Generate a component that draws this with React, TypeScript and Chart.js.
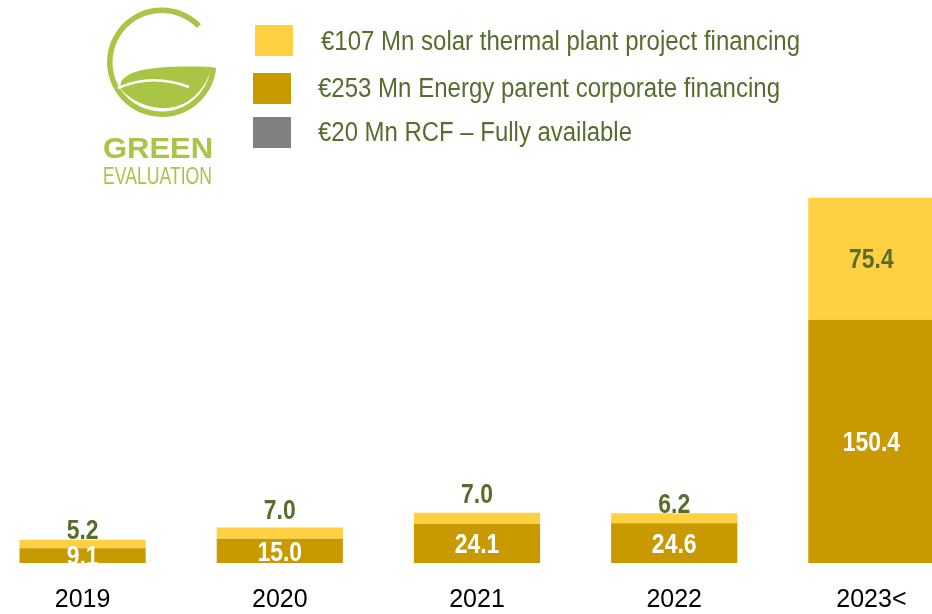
import React, { useEffect, useRef } from 'react';
import { Chart, registerables } from 'chart.js';

Chart.register(...registerables);

// ---- data ----
const categories = ['2019', '2020', '2021', '2022', '2023<'];
const corporateFinancing = [9.1, 15.0, 24.1, 24.6, 150.4];
const projectFinancing = [5.2, 7.0, 7.0, 6.2, 75.4];
const rcfFinancing = [0, 0, 0, 0, 0];
const legendLabels = [
  '€107 Mn solar thermal plant project financing',
  '€253 Mn Energy parent corporate financing',
  '€20 Mn RCF – Fully available',
];

// ---- style ----
const LIGHT = '#FFD142';
const DARK = '#C99A00';
const GRAY = '#808080';
const OLIVE = '#586C2D';
const LOGO = '#A8C545';
const FONT = '"Liberation Sans", Arial, sans-serif';
const topLabelGap = [1, 8, 10, 0, 0];
const legendWidths = [479, 462, 314];

const labelPlugin = {
  id: 'barLabels',
  afterDatasetsDraw(chart: any) {
    const { ctx, chartArea } = chart;
    ctx.save();
    ctx.beginPath();
    ctx.rect(chartArea.left, chartArea.top, chartArea.right - chartArea.left, chartArea.bottom - chartArea.top);
    ctx.clip();
    const size = 27;
    ctx.font = `bold ${size}px ${FONT}`;
    ctx.textAlign = 'center';
    ctx.textBaseline = 'alphabetic';
    const capHalf = size * 0.358;
    const draw = (txt: string, x: number, y: number) => {
      ctx.save();
      ctx.translate(x, y);
      ctx.scale(0.85, 1);
      ctx.fillText(txt, 0, 0);
      ctx.restore();
    };
    chart.getDatasetMeta(0).data.forEach((bar: any, i: number) => {
      const { x, y, base } = bar.getProps(['x', 'y', 'base'], true);
      ctx.fillStyle = '#FFFFFF';
      draw(corporateFinancing[i].toFixed(1), x, (y + base) / 2 + capHalf);
    });
    chart.getDatasetMeta(1).data.forEach((bar: any, i: number) => {
      const { x, y, base } = bar.getProps(['x', 'y', 'base'], true);
      ctx.fillStyle = OLIVE;
      const txt = projectFinancing[i].toFixed(1);
      if (base - y < 40) {
        draw(txt, x, y - topLabelGap[i]);
      } else {
        draw(txt, x, (y + base) / 2 + capHalf);
      }
    });
    ctx.restore();
  },
};

function Overlay() {
  return (
    <svg width={932} height={614} style={{ position: 'absolute', left: 0, top: 0 }}>
      <path d="M 213.5 67.5 A 52 52 0 1 1 199 26" fill="none" stroke={LOGO} strokeWidth={5.5} />
      <path d="M 121 82 C 128 70, 152 65, 212 67 C 205 92, 185 110, 160 108 C 140 106, 126 96, 120 88 Z" fill={LOGO} />
      <path d="M 118 88 Q 152 73 189 87" fill="none" stroke="#FFFFFF" strokeWidth={2.5} />
      <text x={103} y={158} fill={LOGO} fontFamily={FONT} fontWeight="bold" fontSize={30}
        textLength={110} lengthAdjust="spacingAndGlyphs">GREEN</text>
      <text x={103} y={184} fill={LOGO} fontFamily={FONT} fontSize={23}
        textLength={109} lengthAdjust="spacingAndGlyphs">EVALUATION</text>
      {/* legend */}
      <rect x={255} y={25} width={38} height={31} fill={LIGHT} />
      <rect x={253} y={73} width={38} height={31} fill={DARK} />
      <rect x={253} y={117} width={38} height={31} fill={GRAY} />
      <text x={321} y={50} fill={OLIVE} fontFamily={FONT} fontSize={27}
        textLength={legendWidths[0]} lengthAdjust="spacingAndGlyphs">{legendLabels[0]}</text>
      <text x={318} y={97} fill={OLIVE} fontFamily={FONT} fontSize={27}
        textLength={legendWidths[1]} lengthAdjust="spacingAndGlyphs">{legendLabels[1]}</text>
      <text x={318} y={141} fill={OLIVE} fontFamily={FONT} fontSize={27}
        textLength={legendWidths[2]} lengthAdjust="spacingAndGlyphs">{legendLabels[2]}</text>
    </svg>
  );
}

export default function App() {
  const ref = useRef<HTMLCanvasElement>(null);
  useEffect(() => {
    if (!ref.current) return;
    const chart = new Chart(ref.current, {
      type: 'bar',
      data: {
        labels: categories,
        datasets: [
          { label: legendLabels[1], data: corporateFinancing, backgroundColor: DARK, borderWidth: 0 },
          { label: legendLabels[0], data: projectFinancing, backgroundColor: LIGHT, borderWidth: 0 },
          { label: legendLabels[2], data: rcfFinancing, backgroundColor: GRAY, borderWidth: 0 },
        ],
      },
      options: {
        responsive: false,
        animation: false,
        layout: { padding: 0 },
        datasets: { bar: { categoryPercentage: 1, barPercentage: 0.64 } },
        plugins: { legend: { display: false }, tooltip: { enabled: false } },
        scales: {
          x: {
            stacked: true,
            grid: { display: false, drawTicks: false },
            border: { display: false },
            ticks: { color: '#000000', font: { family: FONT, size: 25 }, padding: 22 },
            afterFit: (scale: any) => { scale.height = 51; },
          },
          y: { stacked: true, display: false, min: 0, max: 348 },
        },
      },
      plugins: [labelPlugin],
    });
    return () => chart.destroy();
  }, []);
  return (
    <div style={{ position: 'absolute', left: 0, top: 0, width: 932, height: 614, overflow: 'hidden', background: '#FFFFFF' }}>
      <canvas ref={ref} width={986} height={614} style={{ position: 'absolute', left: -16, top: 0, width: 986, height: 614 }} />
      <Overlay />
    </div>
  );
}
